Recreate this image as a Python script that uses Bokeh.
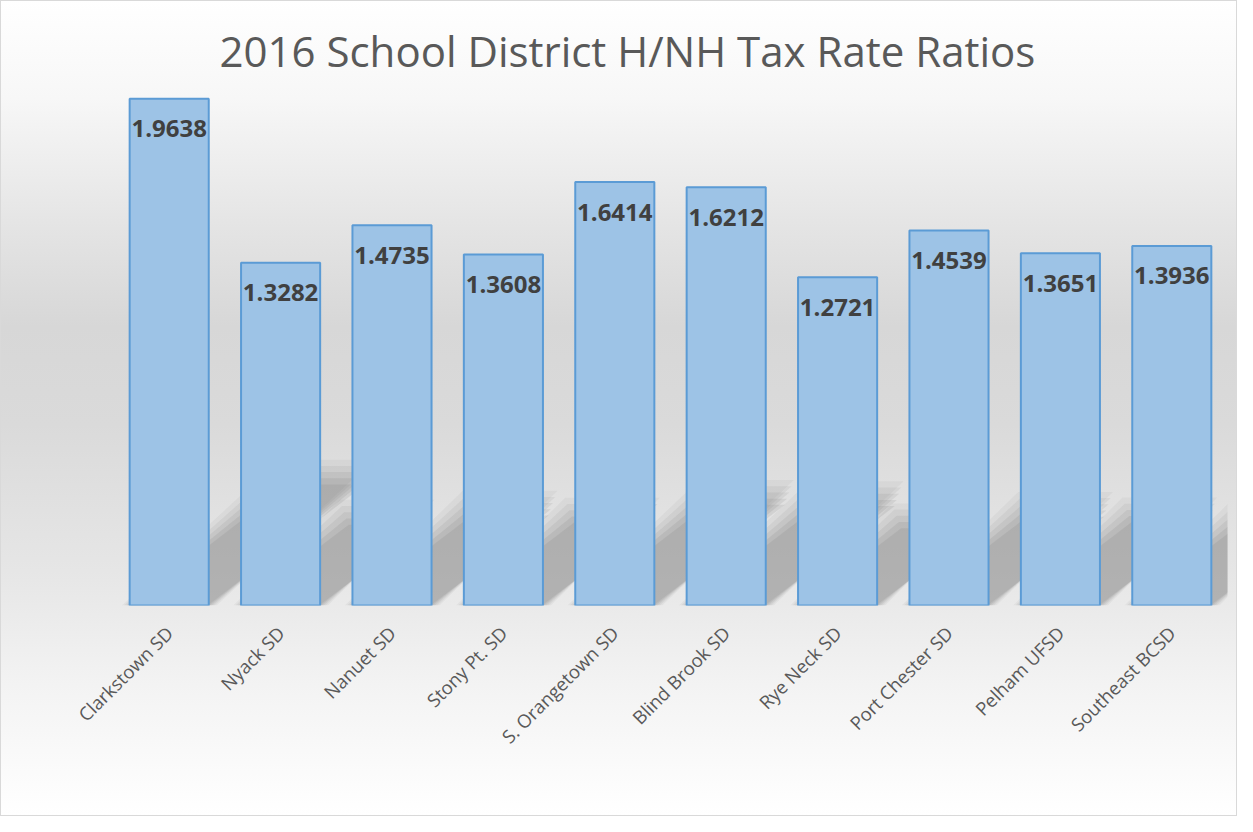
import math
from bokeh.plotting import figure
from bokeh.models import Range1d, FixedTicker, ColumnDataSource
from bokeh.core.properties import value
from bokeh.embed import file_html
from bokeh.resources import INLINE

# ---- data ----
districts = ["Clarkstown SD", "Nyack SD", "Nanuet SD", "Stony Pt. SD", "S. Orangetown SD",
             "Blind Brook SD", "Rye Neck SD", "Port Chester SD", "Pelham UFSD", "Southeast BCSD"]
ratios = [1.9638, 1.3282, 1.4735, 1.3608, 1.6414, 1.6212, 1.2721, 1.4539, 1.3651, 1.3936]
title_text = "2016 School District H/NH Tax Rate Ratios"

idx = list(range(len(districts)))
labels = [f"{v:.4f}" for v in ratios]
BAR_W = 0.71

p = figure(width=1237, height=816, output_backend="svg", toolbar_location=None,
           x_range=Range1d(-0.5, len(districts) - 0.5), y_range=Range1d(0, 2.0),
           min_border_left=113, min_border_right=10, min_border_top=89, min_border_bottom=211,
           title=title_text)
p.border_fill_color = None
p.background_fill_color = None
p.outline_line_color = None
p.styles = {
    "background": "linear-gradient(to bottom, #ffffff 0%, #f7f7f7 12%, #e4e4e4 28%, #d7d7d7 40%, #dadada 52%, #e6e6e6 70%, #f3f3f3 84%, #ffffff 100%)",
    "box-shadow": "inset 0 0 0 1px #d9d9d9",
}

t = p.title
t.align = "left"
t.offset = 106
t.standoff = 21
t.text_font = "Open Sans"
t.text_font_size = "42px"
t.text_font_style = "normal"
t.text_color = "#595959"

# ---- perspective shadows (derived from values) ----
def shadow(expand):
    xs, ys = [], []
    for i, v in zip(idx, ratios):
        h = 0.245 * v
        dx = 0.72 * v
        l = i - BAR_W / 2 - expand
        r = i + BAR_W / 2 + expand
        xs.append([l, r, r + dx, l + dx])
        ys.append([0, 0, h + expand * 1.2, h + expand * 1.2])
    return xs, ys

for e, a in [(0.07, 0.07), (0.05, 0.09), (0.03, 0.11), (0.01, 0.13), (-0.01, 0.14)]:
    sx, sy = shadow(e)
    p.patches(xs=sx, ys=sy, fill_color="#707070", fill_alpha=a, line_color=None)

src = ColumnDataSource(dict(x=idx, top=ratios, lab=labels))
p.vbar(x="x", top="top", width=BAR_W, source=src, fill_color="#9dc3e6",
       line_color="#5b9bd5", line_width=2)
p.text(x="x", y="top", text="lab", source=src, text_align="center",
       text_baseline="alphabetic", y_offset=30, text_font=value("Open Sans"),
       text_font_style="bold", text_font_size="24px", text_color="#404040")

p.yaxis.visible = False
p.xgrid.grid_line_color = None
p.ygrid.grid_line_color = None
ax = p.xaxis[0]
ax.ticker = FixedTicker(ticks=idx)
ax.major_label_overrides = {i: d for i, d in zip(idx, districts)}
ax.major_label_orientation = math.pi / 4
ax.axis_line_color = None
ax.major_tick_line_color = None
ax.minor_tick_line_color = None
ax.major_label_standoff = 18
ax.major_label_text_align = "right"
ax.major_label_text_baseline = "middle"
ax.major_label_text_font = "Open Sans"
ax.major_label_text_font_size = "18.5px"
ax.major_label_text_color = "#595959"

open("out.html", "w").write(file_html(p, INLINE))
